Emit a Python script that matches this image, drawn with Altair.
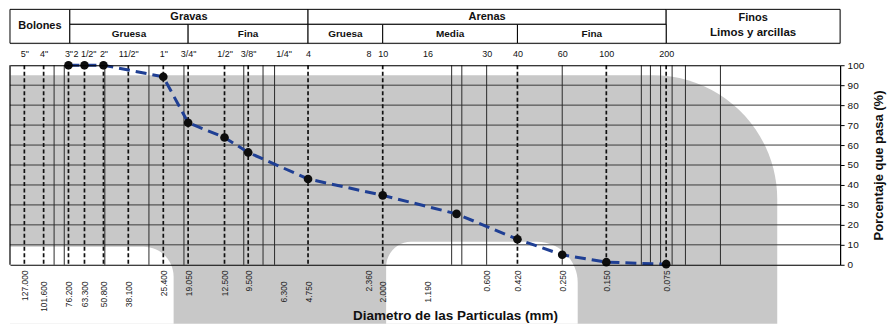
import altair as alt
import numpy as np
import pandas as pd

# ---------------- data ----------------
sieve_mm = [76.2, 63.3, 50.8, 25.4, 19.05, 12.5, 9.5, 4.75, 2.0, 0.85, 0.42, 0.25, 0.15, 0.075]
pct_pass = [100, 100, 100, 94.2, 71.2, 63.8, 56.3, 43.0, 34.8, 25.5, 12.8, 5.0, 1.3, 0.3]

bottom_ticks = [127.0, 101.6, 76.2, 63.3, 50.8, 38.1, 25.4, 19.05, 12.5, 9.5, 6.3, 4.75,
                2.36, 2.0, 1.19, 0.6, 0.42, 0.25, 0.15, 0.075]
upper_row_ticks = [127.0, 25.4, 19.05, 12.5, 9.5, 2.36, 0.6, 0.42, 0.25, 0.15, 0.075]

top_ticks = [127.0, 101.6, 76.2, 63.3, 50.8, 38.1, 25.4, 19.05, 12.5, 9.5, 6.3, 4.75,
             2.36, 2.0, 1.19, 0.6, 0.42, 0.25, 0.15, 0.075]
top_labels = ['5"', '4"', '3"', '2 1/2"', '2"', '11/2"', '1"', '3/4"', '1/2"', '3/8"', '1/4"', '4',
              '8', '10', '16', '30', '40', '60', '100', '200']

sieve_lines = [127.0, 101.6, 76.2, 63.3, 50.8, 38.1, 25.4, 19.05, 12.5, 9.5, 4.75, 2.0, 0.42, 0.15, 0.075]
paper_lines = [90, 80, 50, 30, 20, 10, 8, 7, 0.9, 0.8, 0.6, 0.25, 0.1, 0.09, 0.08, 0.07, 0.06, 0.04]
pct_lines = [10, 20, 30, 40, 50, 60, 70, 80, 90]
y_ticks = [0, 10, 20, 30, 40, 50, 60, 70, 80, 90, 100]

group_names = ["Bolones", "Gravas", "Arenas", "Finos"]
group_from = [150, 75, 4.75, 0.075]
group_to = [75, 4.75, 0.075, 0.01]
group_rows = ["both", "top", "top", "both"]
finos_sub = "Limos y arcillas"
sub_names = ["Gruesa", "Fina", "Gruesa", "Media", "Fina"]
sub_from = [75, 19.05, 4.75, 2.0, 0.42]
sub_to = [19.05, 4.75, 2.0, 0.42, 0.075]

# ---------------- styling / layout ----------------
FONT = "Liberation Sans"
W, H = 832, 200
HDR_H = 34
ROW_SPLIT = 19

xscale = alt.Scale(type="log", domain=[0.01, 150], reverse=True, nice=False)
yscale = alt.Scale(domain=[0, 100], nice=False)
hscale = alt.Scale(domain=[0, HDR_H], nice=False)

# ---------------- header table ----------------
cell_rows = []
text_rows = []
for n, a, b, r in zip(group_names, group_from, group_to, group_rows):
    y0, y1 = (0, HDR_H) if r == "both" else (ROW_SPLIT, HDR_H)
    cell_rows.append({"lo": a, "hi": b, "y0": y0, "y1": y1})
    xm = float(np.sqrt(a * b))
    if n == "Finos":
        text_rows.append({"label": n, "xm": xm, "ym": 25, "fs": 11})
        text_rows.append({"label": finos_sub, "xm": xm, "ym": 10, "fs": 11.5})
    elif r == "both":
        text_rows.append({"label": n, "xm": xm, "ym": HDR_H / 2, "fs": 11})
    else:
        text_rows.append({"label": n, "xm": xm, "ym": (ROW_SPLIT + HDR_H) / 2, "fs": 11})
for n, a, b in zip(sub_names, sub_from, sub_to):
    cell_rows.append({"lo": a, "hi": b, "y0": 0, "y1": ROW_SPLIT})
    text_rows.append({"label": n, "xm": float(np.sqrt(a * b)), "ym": ROW_SPLIT / 2, "fs": 10})

cells_df = pd.DataFrame(cell_rows)
htext_df = pd.DataFrame(text_rows)

hdr_cells = alt.Chart(cells_df).mark_rect(fill="white", stroke="black", strokeWidth=1).encode(
    x=alt.X("lo:Q", scale=xscale, axis=None),
    x2="hi:Q",
    y=alt.Y("y0:Q", scale=hscale, axis=None),
    y2="y1:Q",
)
hdr_text = alt.Chart(htext_df).mark_text(font=FONT, fontWeight="bold", color="#111",
                                         baseline="middle", align="center").encode(
    x=alt.X("xm:Q", scale=xscale, axis=None),
    y=alt.Y("ym:Q", scale=hscale, axis=None),
    text="label:N",
    size=alt.Size("fs:Q", scale=None, legend=None),
)
header = alt.layer(hdr_cells, hdr_text).properties(width=W, height=HDR_H)

# ---------------- main plot ----------------
curve_df = pd.DataFrame({"d": sieve_mm, "p": pct_pass})
one = pd.DataFrame({"k": [0]})

right_axis = alt.Axis(
    orient="right", values=y_ticks, tickSize=4, tickColor="black", labelPadding=3,
    labelFont=FONT, labelFontSize=10, labelColor="#111", domainColor="black", domainWidth=1.2,
    grid=False, title="Porcentaje que pasa (%)", titleFont=FONT, titleFontSize=13,
    titleFontWeight="bold", titleColor="#111", titleAngle=270, titleBaseline="top",
    titlePadding=9, zindex=1)

# scanned background shading (pixel layout of the watermark)
wm_grey = alt.Chart(one).mark_rect(color="#c8c8c8", cornerRadiusTopRight=140).encode(
    x=alt.value(0), x2=alt.value(769), y=alt.value(10), y2=alt.value(259))
wm_white1 = alt.Chart(one).mark_rect(color="white", cornerRadiusTopRight=30).encode(
    x=alt.value(0), x2=alt.value(164), y=alt.value(182), y2=alt.value(259))
wm_white2 = alt.Chart(one).mark_rect(color="white", cornerRadiusTopLeft=25, cornerRadiusTopRight=50).encode(
    x=alt.value(377), x2=alt.value(569), y=alt.value(177), y2=alt.value(259))

hgrid = alt.Chart(pd.DataFrame({"p": pct_lines})).mark_rule(color="#3a3a3a", strokeWidth=1).encode(
    y=alt.Y("p:Q", scale=yscale, axis=right_axis))
vpaper = alt.Chart(pd.DataFrame({"d": paper_lines})).mark_rule(color="#2a2a2a", strokeWidth=1).encode(
    x=alt.X("d:Q", scale=xscale, axis=None))
vsieve = alt.Chart(pd.DataFrame({"d": sieve_lines})).mark_rule(
    color="#111", strokeWidth=1.7, strokeDash=[4, 2.5]).encode(
    x=alt.X("d:Q", scale=xscale, axis=None))
left_frame = alt.Chart(one).mark_rule(color="black", strokeWidth=1.2).encode(
    x=alt.value(0), y=alt.value(0), y2=alt.value(H))

upper_test = "indexof([" + ",".join(repr(v) for v in upper_row_ticks) + "], datum.value) >= 0"
bottom_axis = alt.Axis(
    orient="bottom", values=bottom_ticks, format=".3f", labelAngle=270, labelAlign="right",
    labelBaseline="middle", labelPadding=alt.condition(upper_test, alt.value(5), alt.value(16)),
    ticks=False, domainColor="black", domainWidth=1.2, labelFont=FONT, labelFontSize=8.5,
    labelColor="#222", labelOverlap=False, labelBound=False, labelFlush=False, grid=False,
    title="Diametro de las Particulas (mm)", titleFont=FONT, titleFontSize=13.5,
    titleFontWeight="bold", titleColor="#111", titleX=446, titleY=55, titleAlign="center",
    titleBaseline="alphabetic", zindex=1)

top_expr = ("[" + ",".join("'" + s + "'" for s in top_labels) + "][indexof(["
            + ",".join(repr(v) for v in top_ticks) + "], datum.value)]")
top_axis = alt.Axis(
    orient="top", values=top_ticks, labelExpr=top_expr, labelAngle=0, ticks=False,
    labelPadding=7, labelFont=FONT, labelFontSize=9, labelColor="#111", labelOverlap=False,
    labelBound=False, labelFlush=False, domainColor="black", domainWidth=1.2, grid=False,
    title=None, zindex=1)

curve = alt.Chart(curve_df).mark_line(color="#1f3f94", strokeWidth=3, strokeDash=[11, 6]).encode(
    x=alt.X("d:Q", scale=xscale, axis=bottom_axis),
    y=alt.Y("p:Q", scale=yscale, axis=right_axis),
)
points = alt.Chart(curve_df).mark_point(filled=True, color="#0d0d0d", size=75, opacity=1).encode(
    x=alt.X("d:Q", scale=xscale, axis=top_axis),
    y=alt.Y("p:Q", scale=yscale, axis=right_axis),
)

main = alt.layer(wm_grey, wm_white1, wm_white2, hgrid, vpaper, vsieve, left_frame, curve, points
                 ).properties(width=W, height=H)

chart = alt.vconcat(header, main, spacing=4).properties(
    padding={"left": 0, "top": 0, "right": 0, "bottom": 0}
).configure_view(stroke=None).configure(font=FONT)

chart.save("out.html", embed_options={"renderer": "svg", "actions": False})
